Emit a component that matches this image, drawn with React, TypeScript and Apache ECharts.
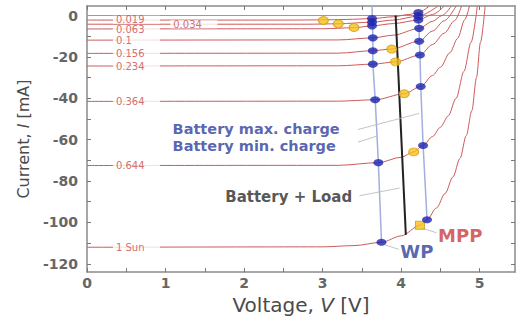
import { useEffect, useRef } from 'react';
import * as echarts from 'echarts';

// ---- axis tick labels ----
const X_LABELS = [0, 1, 2, 3, 4, 5];
const X_TICKS = [0, 0.5, 1, 1.5, 2, 2.5, 3, 3.5, 4, 4.5, 5];
const Y_LABELS = [0, -20, -40, -60, -80, -100, -120];
const Y_TICKS = [0, -10, -20, -30, -40, -50, -60, -70, -80, -90, -100, -110, -120];

// ---- illumination levels (curve labels) ----
const SUN_LEVELS = ['0.019', '0.034', '0.063', '0.1', '0.156', '0.234', '0.364', '0.644', '1 Sun'];
const LEVEL_LABEL_POS = [
  [0.33, -2.0], [1.06, -4.2], [0.33, -6.7], [0.33, -11.9], [0.33, -18.3],
  [0.33, -24.4], [0.33, -41.5], [0.33, -72.5], [0.33, -112],
];

// ---- I-V curves [V, mA] ----
const curve_0019 = [[0, -2.2], [2.6, -2.2], [3.0, -2.1], [3.3, -1.9], [3.63, -1.5], [3.9, -0.6], [4.1, 0.5], [4.22, 1.5], [4.36, 4.6]];
const curve_0034 = [[0, -4.2], [2.8, -4.2], [3.2, -4.0], [3.63, -3.2], [3.9, -2.2], [4.22, -0.3], [4.47, 4.6]];
const curve_0063 = [[0, -6.5], [3.0, -6.4], [3.4, -5.9], [3.63, -5.0], [3.9, -3.9], [4.22, -2.2], [4.4, 0.5], [4.55, 4.6]];
const curve_0100 = [[0, -11.9], [3.2, -11.8], [3.64, -10.8], [3.9, -9.5], [4.23, -6.2], [4.4, -2.8], [4.52, 0], [4.64, 4.6]];
const curve_0156 = [[0, -18.3], [3.2, -18.2], [3.64, -17.0], [3.88, -16.2], [4.23, -12.4], [4.4, -7.5], [4.55, -2.5], [4.7, 4.6]];
const curve_0234 = [[0, -24.4], [3.2, -24.3], [3.64, -23.5], [3.93, -22.4], [4.24, -19.1], [4.4, -14], [4.55, -8.5], [4.68, -2.5], [4.77, 4.6]];
const curve_0364 = [[0, -41.5], [3.2, -41.4], [3.67, -40.7], [4.04, -37.8], [4.25, -34.3], [4.4, -29], [4.5, -25], [4.62, -18], [4.72, -11], [4.81, -2], [4.87, 4.6]];
const curve_0644 = [[0, -72.5], [3.2, -72.4], [3.71, -71.1], [4.0, -68.5], [4.16, -65.9], [4.28, -62.8], [4.4, -58.5], [4.5, -54], [4.6, -48.5], [4.7, -40], [4.8, -27], [4.89, -13], [4.97, 4.6]];
const curve_1sun = [[0, -112], [3.0, -111.8], [3.4, -111.2], [3.75, -109.6], [4.0, -106.5], [4.24, -101.4], [4.33, -98.7], [4.45, -93], [4.56, -86], [4.66, -78], [4.75, -69], [4.83, -58], [4.9, -46], [4.96, -30], [5.01, -13], [5.07, 4.6]];
const CURVES = [curve_0019, curve_0034, curve_0063, curve_0100, curve_0156, curve_0234, curve_0364, curve_0644, curve_1sun];

// ---- operating points ----
const minChargePoints = [[3.63, -1.5], [3.63, -3.2], [3.63, -5.0], [3.64, -10.8], [3.64, -17.0], [3.64, -23.5], [3.67, -40.7], [3.71, -71.1], [3.75, -109.6]];
const maxChargePoints = [[4.22, 1.5], [4.22, -0.3], [4.22, -2.2], [4.23, -6.2], [4.23, -12.4], [4.24, -19.1], [4.25, -34.3], [4.28, -62.8], [4.33, -98.7]];
const mppPoints = [[3.01, -2.4], [3.2, -4.0], [3.4, -5.8], [3.88, -16.2], [3.93, -22.4], [4.04, -37.8], [4.16, -65.9]];
const mppSun = [[4.24, -101.4]];
const minChargeLine = [[3.63, 4.6], ...minChargePoints.slice(3)];
const maxChargeLine = maxChargePoints;
const loadLine = [[3.93, 0], [4.06, -106]];
const zeroLine = [[0, 0], [5.45, 0]];

// ---- annotations ----
const ANNOT_TEXT = ['Battery max. charge', 'Battery min. charge', 'Battery + Load', 'MPP', 'WP'];
const ANNOT_POS = [[1.09, -54.7], [1.09, -63.3], [1.76, -87.6], [4.47, -106.1], [3.99, -114]];
const ANNOT_COLOR = ['#2f3d9c', '#2f3d9c', '#2a2a2a', '#c83c3c', '#2f3d9c'];
const ANNOT_SIZE = [14.5, 14.5, 15, 18, 18];
const LEADERS = [
  [[3.45, -55.1], [4.23, -47.3]],
  [[3.45, -61.2], [3.68, -58.4]],
  [[3.47, -87.1], [3.98, -83.4]],
  [[4.27, -102.8], [4.45, -105]],
  [[3.79, -110.8], [3.97, -113]],
];

const FONT = 'DejaVu Sans';

export default function App() {
  const ref = useRef<HTMLDivElement>(null);
  useEffect(() => {
    if (!ref.current) return;
    const chart = echarts.init(ref.current, undefined, { renderer: 'svg' });
    const lineBase = { type: 'line', symbol: 'none', silent: true, xAxisIndex: 0, yAxisIndex: 0 };
    const series: any[] = [];
    series.push({ ...lineBase, data: zeroLine, lineStyle: { color: '#9a9a9a', width: 1.2 }, z: 1 });
    CURVES.forEach((c) => {
      series.push({ ...lineBase, data: c, smooth: 0.3, smoothMonotone: 'x', lineStyle: { color: '#cc5a5a', width: 1 }, z: 2 });
    });
    series.push({ ...lineBase, data: minChargeLine, lineStyle: { color: '#a3aede', width: 1.5 }, z: 3 });
    series.push({ ...lineBase, data: maxChargeLine, lineStyle: { color: '#a3aede', width: 1.5 }, z: 3 });
    series.push({ ...lineBase, data: loadLine, lineStyle: { color: '#222', width: 2 }, z: 3 });
    LEADERS.forEach((l) => {
      series.push({ ...lineBase, data: l, lineStyle: { color: '#b5b5b5', width: 0.8 }, z: 3 });
    });
    series.push({
      type: 'scatter', silent: true, data: mppPoints, symbol: 'circle', symbolSize: [10, 8],
      itemStyle: { color: '#f6c21c', borderColor: '#d39a10', borderWidth: 1 }, z: 4,
    });
    series.push({
      type: 'scatter', silent: true, data: mppSun, symbol: 'rect', symbolSize: [9, 8],
      itemStyle: { color: '#f6c21c', borderColor: '#d39a10', borderWidth: 1 }, z: 4,
    });
    series.push({
      type: 'scatter', silent: true, data: [...minChargePoints, ...maxChargePoints], symbol: 'circle', symbolSize: [10, 7],
      itemStyle: { color: '#1a24b0' }, z: 5,
    });
    series.push({
      type: 'scatter', silent: true, symbolSize: 0, z: 6,
      data: LEVEL_LABEL_POS.map((p, i) => ({ value: p, name: SUN_LEVELS[i] })),
      label: {
        show: true, position: 'right', distance: 0, formatter: '{b}',
        color: '#c84848', fontSize: 10, fontFamily: FONT,
        backgroundColor: '#fff', width: 41, padding: [0, 3], lineHeight: 8,
      },
    });
    series.push({
      type: 'scatter', silent: true, symbolSize: 0, z: 6,
      data: ANNOT_POS.map((p, i) => ({
        value: p, name: ANNOT_TEXT[i],
        label: {
          color: ANNOT_COLOR[i],
          fontSize: ANNOT_SIZE[i],
          lineHeight: ANNOT_SIZE[i],
        },
      })),
      label: {
        show: true, position: 'right', distance: 0, formatter: '{b}',
        fontFamily: FONT, fontWeight: 'bold',
      },
    });

    const axisLine = { show: true, onZero: false, lineStyle: { color: '#8a8a8a', width: 1.5 } };
    const tickStyle = { color: '#777', width: 1 };
    chart.setOption({
      animation: false,
      backgroundColor: '#fff',
      grid: { left: 87, right: 1, top: 6, bottom: 36, containLabel: false },
      xAxis: [
        {
          type: 'value', min: 0, max: 5.45, position: 'bottom',
          axisLine, splitLine: { show: false },
          axisTick: { show: true, inside: true, length: 4, lineStyle: tickStyle, customValues: X_TICKS },
          axisLabel: { show: true, customValues: X_LABELS, margin: 4, color: '#666', fontSize: 14, fontWeight: 'bold', fontFamily: FONT },
          name: 'Voltage, {i|V} [V]', nameLocation: 'middle', nameGap: 14,
          nameTextStyle: {
            color: '#4a4a4a', fontSize: 20, fontFamily: FONT,
            rich: { i: { color: '#4a4a4a', fontSize: 20, fontFamily: FONT, fontStyle: 'italic' } },
          },
        },
        {
          type: 'value', min: 0, max: 5.45, position: 'top',
          axisLine, splitLine: { show: false },
          axisTick: { show: true, inside: true, length: 4, lineStyle: tickStyle, customValues: X_TICKS },
          axisLabel: { show: false },
        },
      ],
      yAxis: [
        {
          type: 'value', min: -124, max: 4.6, position: 'left',
          axisLine, splitLine: { show: false },
          axisTick: { show: true, inside: true, length: 4, lineStyle: tickStyle, customValues: Y_TICKS },
          axisLabel: { show: true, customValues: Y_LABELS, margin: 9, color: '#666', fontSize: 14, fontWeight: 'bold', fontFamily: FONT },
          name: 'Current, {i|I} [mA]', nameLocation: 'middle', nameGap: 56, nameRotate: 90,
          nameTextStyle: {
            color: '#4a4a4a', fontSize: 16, fontFamily: FONT,
            rich: { i: { color: '#4a4a4a', fontSize: 16, fontFamily: FONT, fontStyle: 'italic' } },
          },
        },
        {
          type: 'value', min: -124, max: 4.6, position: 'right',
          axisLine, splitLine: { show: false },
          axisTick: { show: true, inside: true, length: 4, lineStyle: tickStyle, customValues: Y_TICKS },
          axisLabel: { show: false },
        },
      ],
      series,
    });
    return () => chart.dispose();
  }, []);
  return <div ref={ref} style={{ position: 'absolute', left: 0, top: 0, width: 516, height: 320 }} />;
}
